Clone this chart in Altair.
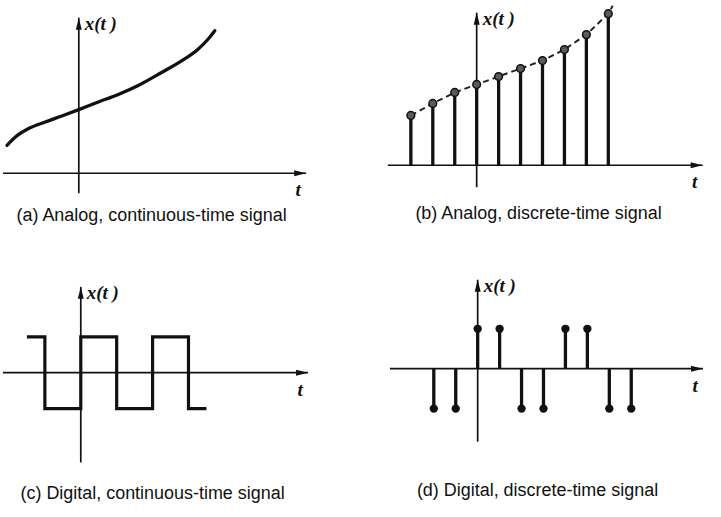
import altair as alt
import pandas as pd

# ---------------- data ----------------
# (a) analog, continuous-time signal
a_t = [-3.6, -3.18, -2.52, -1.68, -0.85, 0.0, 0.98, 1.98, 2.98, 4.15, 5.15, 5.98, 6.48, 6.82]
a_x = [1.4, 1.82, 2.24, 2.57, 2.87, 3.19, 3.57, 3.95, 4.4, 5.05, 5.63, 6.22, 6.72, 7.15]
# (b) analog, discrete-time signal
b_n = [-3, -2, -1, 0, 1, 2, 3, 4, 5, 6]
b_x = [2.5, 3.1, 3.65, 4.05, 4.45, 4.85, 5.25, 5.8, 6.55, 7.6]
b_trend_tail_t = [6.2]
b_trend_tail_x = [8.0]
# (c) digital, continuous-time signal (change points, step-after)
c_t = [-1.5, -1, 0, 1, 2, 3, 3.5]
c_x = [1, -1, 1, -1, 1, -1, -1]
# (d) digital, discrete-time signal
d_n = [-2, -1, 0, 1, 2, 3, 4, 5, 6, 7]
d_x = [-1, -1, 1, 1, -1, -1, 1, 1, -1, -1]

captions = [
    "(a) Analog, continuous-time signal",
    "(b) Analog, discrete-time signal",
    "(c) Digital, continuous-time signal",
    "(d) Digital, discrete-time signal",
]

INK = "#111111"
UP = "M0,0L0.5,2L-0.5,2Z"
RIGHT = "M0,0L-2,-0.5L-2,0.5Z"


def panel(W, H, ox, oy, sx, sy, ext, caption, cpos, content):
    tmin, tmax, vmin, vmax = ext
    xs = alt.Scale(domain=[(0 - ox) / sx, (W - ox) / sx], nice=False, zero=False)
    ys = alt.Scale(domain=[(oy - H) / sy, oy / sy], nice=False, zero=False)

    def X(f="t"):
        return alt.X(f"{f}:Q", scale=xs, axis=None)

    def Y(f="v"):
        return alt.Y(f"{f}:Q", scale=ys, axis=None)

    layers = []
    haxis = pd.DataFrame({"t": [tmin], "t2": [tmax], "v": [0]})
    vaxis = pd.DataFrame({"t": [0], "v": [vmin], "v2": [vmax]})
    layers.append(alt.Chart(haxis).mark_rule(color=INK, strokeWidth=1.7)
                  .encode(x=X(), x2="t2:Q", y=Y()))
    layers.append(alt.Chart(vaxis).mark_rule(color=INK, strokeWidth=1.7)
                  .encode(x=X(), y=Y(), y2="v2:Q"))
    layers.append(alt.Chart(pd.DataFrame({"t": [tmax], "v": [0]}))
                  .mark_point(shape=RIGHT, filled=True, size=144, color=INK, opacity=1)
                  .encode(x=X(), y=Y()))
    layers.append(alt.Chart(pd.DataFrame({"t": [0], "v": [vmax]}))
                  .mark_point(shape=UP, filled=True, size=144, color=INK, opacity=1)
                  .encode(x=X(), y=Y()))
    layers.append(alt.Chart(pd.DataFrame({"t": [0], "v": [vmax], "s": ["x(t )"]}))
                  .mark_text(font="Liberation Serif", fontSize=19, fontWeight="bold",
                             fontStyle="italic", align="left", baseline="middle",
                             dx=6, dy=6, color=INK)
                  .encode(x=X(), y=Y(), text="s:N"))
    layers.append(alt.Chart(pd.DataFrame({"t": [tmax], "v": [0], "s": ["t"]}))
                  .mark_text(font="Liberation Serif", fontSize=19, fontWeight="bold",
                             fontStyle="italic", align="center", baseline="middle",
                             dx=-8, dy=17, color=INK)
                  .encode(x=X(), y=Y(), text="s:N"))
    layers += content(X, Y)
    layers.append(alt.Chart(pd.DataFrame({"s": [caption]}))
                  .mark_text(font="Liberation Sans", fontSize=18, align="center",
                             baseline="middle", color="#111111")
                  .encode(x=alt.value(cpos[0]), y=alt.value(cpos[1]), text="s:N"))
    return alt.layer(*layers).properties(width=W, height=H)


def content_a(X, Y):
    df = pd.DataFrame({"t": a_t, "v": a_x})
    return [alt.Chart(df).mark_line(color=INK, strokeWidth=3.3, interpolate="monotone",
                                    strokeCap="round")
            .encode(x=X(), y=Y())]


def content_b(X, Y):
    df = pd.DataFrame({"t": b_n, "v": b_x, "z": [0] * len(b_n)})
    trend = pd.DataFrame({"t": b_n + b_trend_tail_t, "v": b_x + b_trend_tail_x})
    return [
        alt.Chart(trend).mark_line(color="#222222", strokeWidth=2, strokeDash=[6, 4])
        .encode(x=X(), y=Y()),
        alt.Chart(df).mark_rule(color=INK, strokeWidth=3.3).encode(x=X(), y=Y("z"), y2="v:Q"),
        alt.Chart(df).mark_circle(size=60, color="#5a5a5a", stroke="#111111",
                                  strokeWidth=1.5, opacity=1)
        .encode(x=X(), y=Y()),
    ]


def content_c(X, Y):
    df = pd.DataFrame({"t": c_t, "v": c_x})
    return [alt.Chart(df).mark_line(color=INK, strokeWidth=3.2, interpolate="step-after",
                                    strokeJoin="miter")
            .encode(x=X(), y=Y())]


def content_d(X, Y):
    df = pd.DataFrame({"t": d_n, "v": d_x, "z": [0] * len(d_n)})
    return [
        alt.Chart(df).mark_rule(color=INK, strokeWidth=3.3).encode(x=X(), y=Y("z"), y2="v:Q"),
        alt.Chart(df).mark_circle(size=70, color=INK, opacity=1).encode(x=X(), y=Y()),
    ]


pa = panel(360, 258, 77, 173, 20, 20, (-3.8, 11.4, -1.0, 7.8), captions[0], (150, 216), content_a)
pb = panel(361, 258, 116, 165, 22, 20, (-4.05, 10.3, -1.1, 7.65), captions[1], (178, 214), content_b)
pc = panel(360, 259, 79, 115, 36, 36, (-2.17, 6.33, -2.5, 2.39), captions[2], (151, 237), content_c)
pd_ = panel(361, 259, 117, 111, 22, 40, (-4.0, 10.27, -1.83, 2.23), captions[3], (177, 234), content_d)

chart = alt.ConcatChart(concat=[pa, pb, pc, pd_], columns=2, spacing=0, bounds="flush",
                        padding=0, background="white").configure_view(stroke=None)

chart.save("out.html", embed_options={"renderer": "svg", "actions": False})
